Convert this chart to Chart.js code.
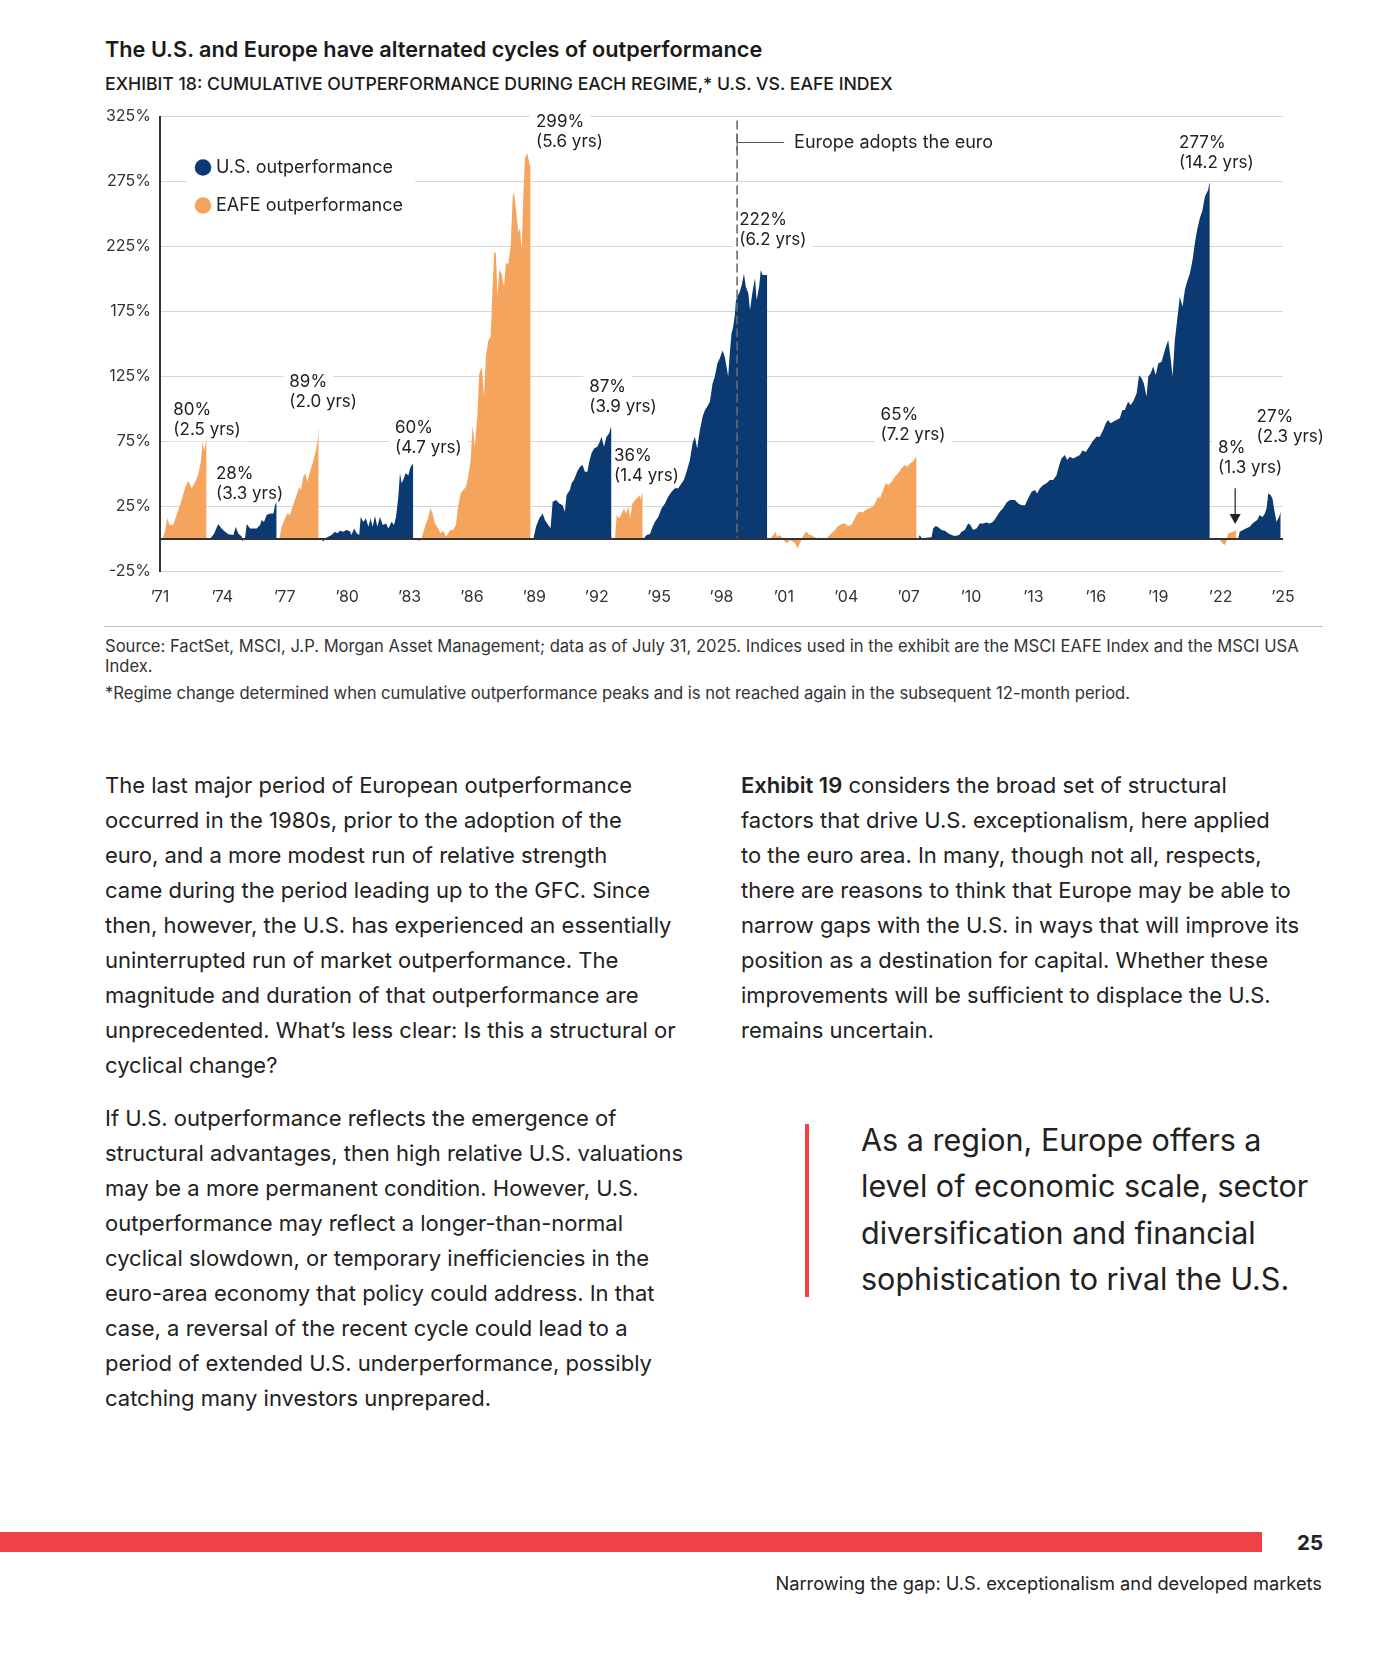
<!DOCTYPE html>
<html>
<head>
<meta charset="utf-8">
<title>Exhibit 18</title>
<script src="https://cdn.jsdelivr.net/npm/chart.js@4.4.1/dist/chart.umd.min.js"></script>
<style>
  body { margin: 0; width: 1400px; height: 1670px; background: #fff; position: relative; overflow: hidden;
         font-family: Inter, "Noto Sans", sans-serif; color: #222; }
  .abs { position: absolute; white-space: nowrap; }
  #title { left: 105px; top: 39px; font-size: 21.7px; font-weight: 600; line-height: 1; color: #1a1a1a; }
  #subtitle { left: 105px; top: 74.5px; font-size: 17.65px; font-weight: 500; line-height: 1; color: #1a1a1a; }
  #chartBox { position: absolute; left: 0; top: 95px; width: 1400px; height: 520px; }
  #rule { left: 104px; top: 626px; width: 1219px; height: 1px; background: #bdbdbd; }
  .note { font-size: 16.6px; line-height: 20px; color: #333; }
  .body { font-size: 22px; line-height: 35px; color: #222; }
  #quoteBar { left: 805px; top: 1124px; width: 4px; height: 173px; background: #ef4246; }
  #quote { left: 861px; top: 1117px; font-size: 30.5px; line-height: 46.4px; color: #222; }
  #redBar { left: 0; top: 1532px; width: 1262px; height: 20px; background: #ef4246; }
  #pageNo { left: 1280px; top: 1533px; width: 43px; text-align: right; font-size: 20.5px; font-weight: 700; line-height: 20px; }
  #footer { right: 78px; top: 1573px; font-size: 18.25px; line-height: 20px; color: #222; }
</style>
</head>
<body>
<div class="abs" id="title">The U.S. and Europe have alternated cycles of outperformance</div>
<div class="abs" id="subtitle">EXHIBIT 18: CUMULATIVE OUTPERFORMANCE DURING EACH REGIME,* U.S. VS. EAFE INDEX</div>
<div id="chartBox"><canvas id="chart" width="1400" height="520"></canvas></div>
<div class="abs" id="rule"></div>
<div class="abs note" style="left:105px; top:636px;">Source: FactSet, MSCI, J.P. Morgan Asset Management; data as of July 31, 2025. Indices used in the exhibit are the MSCI EAFE Index and the MSCI USA<br>Index.</div>
<div class="abs note" style="left:105px; top:683px;">*Regime change determined when cumulative outperformance peaks and is not reached again in the subsequent 12-month period.</div>

<div class="abs body" style="left:105px; top:768px;">The last major period of European outperformance<br>occurred in the 1980s, prior to the adoption of the<br>euro, and a more modest run of relative strength<br>came during the period leading up to the GFC. Since<br>then, however, the U.S. has experienced an essentially<br>uninterrupted run of market outperformance. The<br>magnitude and duration of that outperformance are<br>unprecedented. What’s less clear: Is this a structural or<br>cyclical change?</div>
<div class="abs body" style="left:105px; top:1101px;">If U.S. outperformance reflects the emergence of<br>structural advantages, then high relative U.S. valuations<br>may be a more permanent condition. However, U.S.<br>outperformance may reflect a longer-than-normal<br>cyclical slowdown, or temporary inefficiencies in the<br>euro-area economy that policy could address. In that<br>case, a reversal of the recent cycle could lead to a<br>period of extended U.S. underperformance, possibly<br>catching many investors unprepared.</div>
<div class="abs body" style="left:741px; top:768px;"><b style="font-weight:600">Exhibit 19</b> considers the broad set of structural<br>factors that drive U.S. exceptionalism, here applied<br>to the euro area. In many, though not all, respects,<br>there are reasons to think that Europe may be able to<br>narrow gaps with the U.S. in ways that will improve its<br>position as a destination for capital. Whether these<br>improvements will be sufficient to displace the U.S.<br>remains uncertain.</div>

<div class="abs" id="quoteBar"></div>
<div class="abs" id="quote">As a region, Europe offers a<br>level of economic scale, sector<br>diversification and financial<br>sophistication to rival the U.S.</div>

<div class="abs" id="redBar"></div>
<div class="abs" id="pageNo">25</div>
<div class="abs" id="footer">Narrowing the gap: U.S. exceptionalism and developed markets</div>

<script>
//=================Data===================//
// each regime: [year, cumulative outperformance %]
var eafe1971 = [[1971.13,0],[1971.24,6],[1971.35,16],[1971.45,11],[1971.64,11],[1971.83,20],[1972.04,30],[1972.20,39],[1972.36,45],[1972.52,39],[1972.73,45],[1972.84,50],[1972.96,59],[1973.05,75],[1973.13,68],[1973.24,78]];
var us1973 = [[1973.40,0],[1973.60,4],[1973.80,11.5],[1973.96,8],[1974.13,5.6],[1974.29,3.6],[1974.53,3],[1974.64,9.5],[1974.77,4],[1974.93,2],[1974.97,-2],[1975.09,1],[1975.17,11.5],[1975.33,8],[1975.49,8],[1975.65,8],[1975.81,10.8],[1975.89,14.6],[1976.00,13],[1976.13,18.5],[1976.29,19.7],[1976.45,19.7],[1976.53,26],[1976.61,28.7]];
var eafe1976 = [[1976.74,0],[1976.85,9.5],[1977.01,16],[1977.12,19.7],[1977.25,18.5],[1977.38,25],[1977.49,30],[1977.57,34],[1977.70,40],[1977.78,37.7],[1977.89,48],[1977.99,50.5],[1978.08,44],[1978.21,51.8],[1978.34,58],[1978.50,68.5],[1978.58,76],[1978.63,87.7]];
var us1978 = [[1978.74,0],[1978.85,-2],[1978.93,0.5],[1979.09,1.8],[1979.25,3],[1979.41,5.6],[1979.53,4.4],[1979.65,6.4],[1979.81,5.6],[1979.97,7],[1980.13,6],[1980.21,3],[1980.33,8],[1980.46,4.4],[1980.58,3],[1980.65,17],[1980.78,13],[1980.90,16],[1981.02,9.5],[1981.13,16],[1981.22,9.5],[1981.34,17.7],[1981.45,9.5],[1981.58,17],[1981.71,10.8],[1981.87,12],[1981.98,8],[1982.14,13.3],[1982.25,10.8],[1982.35,17],[1982.46,32.6],[1982.54,50.5],[1982.62,42.8],[1982.73,46.7],[1982.81,50.5],[1982.94,49],[1983.05,55.6],[1983.18,58]];
var eafe1983 = [[1983.34,0],[1983.45,-2],[1983.58,0.5],[1983.74,9.5],[1983.90,17],[1984.01,23.6],[1984.11,19.7],[1984.22,12],[1984.38,8],[1984.49,4.4],[1984.62,6.4],[1984.75,1.8],[1984.86,4.4],[1984.97,7],[1985.10,7],[1985.23,10.8],[1985.34,26],[1985.46,35],[1985.58,37.7],[1985.71,40],[1985.82,48],[1985.94,60.8],[1986.03,87.7],[1986.14,71],[1986.26,95.4],[1986.35,127],[1986.47,132.6],[1986.58,109.5],[1986.67,140],[1986.79,153],[1986.90,155.6],[1986.99,192.8],[1987.07,221],[1987.15,219.7],[1987.23,186.4],[1987.31,207],[1987.43,204],[1987.54,194],[1987.63,212],[1987.75,212],[1987.86,224.9],[1987.96,263],[1988.02,267],[1988.12,253],[1988.23,236],[1988.31,239],[1988.39,222],[1988.47,263],[1988.55,292.8],[1988.66,297],[1988.76,289],[1988.82,287]];
var us1989 = [[1988.95,0],[1989.08,9.5],[1989.24,16],[1989.40,19.7],[1989.51,14.6],[1989.67,10.8],[1989.78,8.2],[1989.88,28.7],[1990.04,30],[1990.20,27.4],[1990.36,26],[1990.47,21],[1990.55,33.8],[1990.71,37.7],[1990.79,42.8],[1990.90,45.4],[1991.06,51.8],[1991.19,55.6],[1991.32,57],[1991.43,51.8],[1991.55,51.8],[1991.64,59.5],[1991.75,65.9],[1991.87,69.7],[1992.03,71],[1992.15,75],[1992.23,78.7],[1992.35,71],[1992.47,78.7],[1992.60,81.3],[1992.68,86.4],[1992.71,84]];
var eafe1992 = [[1992.88,0],[1992.96,18.5],[1993.08,16],[1993.20,19.7],[1993.31,23.6],[1993.40,19.7],[1993.52,24.9],[1993.60,16],[1993.72,27.4],[1993.84,30],[1993.95,31.3],[1994.05,33.8],[1994.11,30],[1994.17,35],[1994.21,35]];
var us1994 = [[1994.24,0],[1994.40,3],[1994.56,3.8],[1994.69,9.5],[1994.80,13.3],[1994.96,17],[1995.12,23.6],[1995.28,27.4],[1995.44,32.6],[1995.60,36.4],[1995.76,39],[1995.92,39],[1996.08,42.8],[1996.19,45.4],[1996.32,51.8],[1996.48,60.8],[1996.61,73.6],[1996.72,78.7],[1996.83,69.7],[1996.96,83.8],[1997.09,94],[1997.20,99],[1997.31,101.8],[1997.44,105.6],[1997.57,119.7],[1997.68,125],[1997.80,135],[1997.92,139],[1998.05,145],[1998.16,140],[1998.24,132.6],[1998.32,125],[1998.40,142.8],[1998.48,158],[1998.56,163],[1998.64,172],[1998.69,182.6],[1998.76,186.4],[1998.85,189],[1998.97,195],[1999.08,204],[1999.17,194],[1999.29,189],[1999.37,176],[1999.49,190],[1999.61,200.5],[1999.69,183.8],[1999.81,194],[1999.89,207],[1999.97,203],[2000.09,203],[2000.20,203]];
var eafe2000 = [[2000.33,0],[2000.49,3],[2000.58,5.6],[2000.68,1.8],[2000.81,3],[2000.94,0.5],[2001.05,-2],[2001.16,-3.3],[2001.29,-0.8],[2001.42,-2],[2001.53,-3.3],[2001.66,-7.2],[2001.77,-3.3],[2001.90,1.8],[2002.01,4.4],[2002.09,5.6],[2002.22,3],[2002.33,3],[2002.44,1.8],[2002.57,0.5],[2002.70,1.3],[2002.81,-0.8],[2002.97,-0.3],[2003.13,1.8],[2003.29,4.4],[2003.45,7],[2003.61,10],[2003.77,11.5],[2003.93,12],[2004.09,10],[2004.25,10.8],[2004.37,14.6],[2004.49,18.5],[2004.62,21],[2004.78,20.3],[2004.94,22.3],[2005.10,23.6],[2005.26,24.9],[2005.38,27.4],[2005.54,32.6],[2005.62,31.3],[2005.74,36.4],[2005.90,42.8],[2006.02,41.5],[2006.18,44],[2006.34,48],[2006.50,50.5],[2006.66,54.4],[2006.82,57],[2006.93,55.6],[2007.06,58],[2007.19,59.5],[2007.30,62],[2007.38,63.8]];
var us2007 = [[2007.46,0],[2007.54,3],[2007.62,0.5],[2008.10,1.3],[2008.18,8.2],[2008.31,10],[2008.42,9],[2008.58,7],[2008.74,6.4],[2008.90,4.4],[2009.06,3],[2009.22,2.3],[2009.43,3],[2009.54,5.6],[2009.70,7],[2009.86,12],[2009.97,10.8],[2010.10,7],[2010.26,8],[2010.42,12],[2010.58,12],[2010.74,12.6],[2010.90,12],[2011.06,13.3],[2011.22,17],[2011.38,21],[2011.54,23.6],[2011.71,28],[2011.87,30],[2012.11,30],[2012.27,27.4],[2012.43,26],[2012.59,26],[2012.75,31.3],[2012.91,36.4],[2013.07,37.7],[2013.18,35],[2013.31,39],[2013.47,41.5],[2013.63,42.8],[2013.79,45.4],[2013.95,45.4],[2014.11,49],[2014.24,57],[2014.35,62],[2014.51,64.6],[2014.62,60.8],[2014.75,63.3],[2014.91,62],[2015.07,63.3],[2015.23,64.6],[2015.36,68],[2015.52,67],[2015.68,71],[2015.84,75],[2016.03,78.7],[2016.19,78.7],[2016.35,83.8],[2016.48,89],[2016.59,91.5],[2016.71,89],[2016.87,90.5],[2016.99,91.5],[2017.15,92.8],[2017.28,99.2],[2017.39,99.2],[2017.55,105.6],[2017.67,103],[2017.79,105.6],[2017.96,112],[2018.08,126],[2018.20,123.6],[2018.31,119.7],[2018.44,109.5],[2018.52,125],[2018.63,127.4],[2018.76,132.6],[2018.88,126],[2019.00,135],[2019.16,136.4],[2019.32,145.4],[2019.48,153],[2019.59,140],[2019.69,125],[2019.80,153],[2019.91,168.5],[2020.04,186.4],[2020.17,178.7],[2020.28,191.5],[2020.39,198],[2020.52,204],[2020.65,214.6],[2020.76,227.4],[2020.87,237.7],[2021.00,246.7],[2021.13,253],[2021.24,263],[2021.32,266],[2021.40,268.5],[2021.45,273.6],[2021.48,275]];
var eafe2021 = [[2021.56,0],[2021.72,-0.8],[2021.88,0.5],[2021.99,-1.3],[2022.09,-3.3],[2022.20,-4.6],[2022.28,-2],[2022.36,4.4],[2022.47,4.9],[2022.60,5.6],[2022.68,6.2],[2022.76,6.4]];
var us2022 = [[2022.84,0],[2022.92,5.6],[2023.08,7],[2023.24,8.2],[2023.40,9.5],[2023.53,12],[2023.64,13.3],[2023.76,14.6],[2023.88,18.5],[2024.01,17],[2024.13,19.7],[2024.21,23.6],[2024.29,35],[2024.40,33.8],[2024.49,31.3],[2024.61,19.7],[2024.69,13.3],[2024.81,17],[2024.89,21]];

var usRegimes = [us1973, us1978, us1989, us1994, us2007, us2022];
var eafeRegimes = [eafe1971, eafe1976, eafe1983, eafe1992, eafe2000, eafe2021];

// axis
var yMin = -25, yMax = 325, yStep = 50;
var xFirstYear = 1971, xLastYear = 2025, xStep = 3;
var euroYear = 1998.75;

// labels: peak % and regime length, anchored in data units (left edge, first line)
var peakLabels = [
  { lines: ['80%', '(2.5 yrs)'], x: 1971.64, y: 99 },
  { lines: ['28%', '(3.3 yrs)'], x: 1973.69, y: 50 },
  { lines: ['89%', '(2.0 yrs)'], x: 1977.22, y: 121 },
  { lines: ['60%', '(4.7 yrs)'], x: 1982.30, y: 85.4 },
  { lines: ['299%', '(5.6 yrs)'], x: 1989.08, y: 321 },
  { lines: ['87%', '(3.9 yrs)'], x: 1991.64, y: 117 },
  { lines: ['36%', '(1.4 yrs)'], x: 1992.83, y: 63.8 },
  { lines: ['222%', '(6.2 yrs)'], x: 1998.85, y: 245.4 },
  { lines: ['65%', '(7.2 yrs)'], x: 2005.65, y: 95.4 },
  { lines: ['277%', '(14.2 yrs)'], x: 2020.0, y: 304.8 },
  { lines: ['8%', '(1.3 yrs)'], x: 2021.88, y: 69.8 },
  { lines: ['27%', '(2.3 yrs)'], x: 2023.73, y: 94 }
];
var arrow8 = { x: 2022.70, from: 39, to: 11.5 };

var NAVY = '#0b3a73';
var ORANGE = '#f5a45d';
var FONT = 'Inter, "Noto Sans", sans-serif';

//=================Helpers=================//
function toSeries(regimes){
  var pts = [];
  for (var i = 0; i < regimes.length; i++){
    var r = regimes[i];
    for (var j = 0; j < r.length; j++){
      pts.push({ x: r[j][0], y: r[j][1] });
    }
    pts.push({ x: r[r.length - 1][0], y: null }); // break between regimes
  }
  return pts;
}

var LINE_GAP = 20;

// white boxes behind text so the gridlines break around it
var labelBoxes = {
  id: 'labelBoxes',
  beforeDatasetsDraw: function(chart){
    var ctx = chart.ctx, xs = chart.scales.x, ys = chart.scales.y, area = chart.chartArea;
    ctx.save();
    ctx.font = '17px ' + FONT;
    ctx.fillStyle = '#fff';
    peakLabels.forEach(function(l){
      var px = xs.getPixelForValue(l.x), py = ys.getPixelForValue(l.y);
      l.lines.forEach(function(t, i){
        var w = ctx.measureText(t).width;
        ctx.fillRect(px - 6, py + i * LINE_GAP - 11, w + 12, 22);
      });
    });
    // legend box
    ctx.fillRect(area.left + 27, area.top + 36, 228, 72);
    ctx.restore();
  }
};

var overlays = {
  id: 'overlays',
  afterDatasetsDraw: function(chart){
    var ctx = chart.ctx, xs = chart.scales.x, ys = chart.scales.y, area = chart.chartArea;
    ctx.save();

    // euro dashed line
    var ex = xs.getPixelForValue(euroYear);
    var y0 = ys.getPixelForValue(0);
    ctx.strokeStyle = '#6b6b6b';
    ctx.lineWidth = 1.6;
    ctx.setLineDash([9, 4]);
    ctx.beginPath();
    ctx.moveTo(ex, ys.getPixelForValue(322));
    ctx.lineTo(ex, y0);
    ctx.stroke();
    ctx.setLineDash([]);
    var ey = ys.getPixelForValue(305);
    ctx.strokeStyle = '#555';
    ctx.lineWidth = 1;
    ctx.beginPath();
    ctx.moveTo(ex, ey - 8); ctx.lineTo(ex, ey + 8);
    ctx.moveTo(ex, ey); ctx.lineTo(ex + 47, ey);
    ctx.stroke();
    ctx.fillStyle = '#222';
    ctx.font = '18px ' + FONT;
    ctx.textBaseline = 'middle';
    ctx.textAlign = 'left';
    ctx.fillText('Europe adopts the euro', ex + 57, ey);

    // zero line
    ctx.strokeStyle = '#333';
    ctx.lineWidth = 2;
    ctx.beginPath();
    ctx.moveTo(area.left, y0);
    ctx.lineTo(area.right, y0);
    ctx.stroke();

    // peak labels
    ctx.font = '17px ' + FONT;
    ctx.fillStyle = '#222';
    peakLabels.forEach(function(l){
      var px = xs.getPixelForValue(l.x), py = ys.getPixelForValue(l.y);
      l.lines.forEach(function(t, i){
        ctx.fillText(t, px, py + i * LINE_GAP);
      });
    });

    // arrow to the 2022 EAFE regime
    var ax = xs.getPixelForValue(arrow8.x);
    var aTop = ys.getPixelForValue(arrow8.from), aTip = ys.getPixelForValue(arrow8.to);
    ctx.strokeStyle = '#222';
    ctx.lineWidth = 1.2;
    ctx.beginPath();
    ctx.moveTo(ax, aTop); ctx.lineTo(ax, aTip - 8);
    ctx.stroke();
    ctx.beginPath();
    ctx.moveTo(ax - 5.5, aTip - 10);
    ctx.lineTo(ax + 5.5, aTip - 10);
    ctx.lineTo(ax, aTip);
    ctx.closePath();
    ctx.fill();

    // legend
    var lx = area.left + 43, ly1 = area.top + 51, ly2 = area.top + 89;
    ctx.fillStyle = NAVY;
    ctx.beginPath(); ctx.arc(lx, ly1, 8.3, 0, Math.PI * 2); ctx.fill();
    ctx.fillStyle = ORANGE;
    ctx.beginPath(); ctx.arc(lx, ly2, 8.3, 0, Math.PI * 2); ctx.fill();
    ctx.fillStyle = '#222';
    ctx.font = '18px ' + FONT;
    ctx.fillText('U.S. outperformance', lx + 13, ly1);
    ctx.fillText('EAFE outperformance', lx + 13, ly2);

    ctx.restore();
  }
};

//=================Chart===================//
var ctx = document.getElementById('chart').getContext('2d');
var outperformanceChart = new Chart(ctx, {
  type: 'line',
  data: {
    datasets: [{
      label: 'U.S. outperformance',
      data: toSeries(usRegimes),
      backgroundColor: NAVY,
      borderWidth: 0,
      pointRadius: 0,
      fill: 'origin',
      tension: 0
    }, {
      label: 'EAFE outperformance',
      data: toSeries(eafeRegimes),
      backgroundColor: ORANGE,
      borderWidth: 0,
      pointRadius: 0,
      fill: 'origin',
      tension: 0
    }]
  },
  options: {
    responsive: false,
    animation: false,
    devicePixelRatio: 1,
    layout: { padding: { left: 0, right: 117, top: 21.5, bottom: 0 } },
    plugins: { legend: { display: false }, tooltip: { enabled: false } },
    scales: {
      x: {
        type: 'linear',
        min: xFirstYear,
        max: xLastYear,
        grid: { display: false, drawTicks: false },
        border: { display: false },
        ticks: {
          stepSize: xStep,
          padding: 16,
          color: '#333',
          font: { family: FONT, size: 16 },
          maxRotation: 0,
          callback: function(v){ return '’' + String(v).slice(2); }
        },
        afterFit: function(scale){ scale.height = 43.5; }
      },
      y: {
        min: yMin,
        max: yMax,
        grid: { color: '#d6d6d6', lineWidth: 1, drawTicks: false },
        border: { display: true, color: '#333', width: 2 },
        ticks: {
          stepSize: yStep,
          padding: 9,
          color: '#333',
          font: { family: FONT, size: 16 },
          callback: function(v){ return v + '%'; }
        },
        afterFit: function(scale){ scale.width = 160; }
      }
    }
  },
  plugins: [labelBoxes, overlays]
});
</script>
</body>
</html>
